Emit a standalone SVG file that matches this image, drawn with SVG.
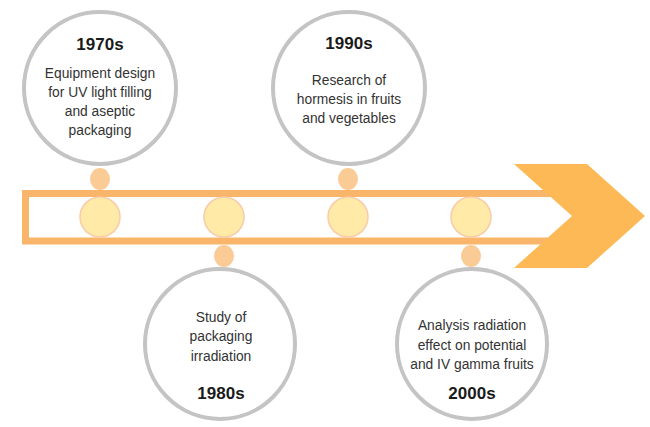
<svg xmlns="http://www.w3.org/2000/svg" width="650" height="427" viewBox="0 0 650 427">
<style>
.big{fill:#fff;stroke:#c4c4c4;stroke-width:4}
.dot{fill:#ffeaa8;stroke:#f9cba8;stroke-width:1.5}
.link{fill:#facb95}
.yr{font-family:"Liberation Sans",Arial,sans-serif;font-size:17px;font-weight:bold;fill:#1a1a1a;text-anchor:middle}
.tx{font-family:"Liberation Sans",Arial,sans-serif;font-size:13.8px;fill:#333;text-anchor:middle}
</style>
<rect width="650" height="427" fill="#fff"/>
<g id="timeline">
<path d="M560,193.5 H25.5 V241 H560" fill="none" stroke="#f9b56a" stroke-width="7"/>
<polygon points="514,164 587,164 645,216 587,268 514,268 572,216" fill="#fdb955"/>
</g>
<g id="connectors">
<ellipse class="link" cx="100" cy="179" rx="10" ry="11"/>
<ellipse class="link" cx="348" cy="179" rx="10" ry="11"/>
<ellipse class="link" cx="224" cy="256" rx="10" ry="11"/>
<ellipse class="link" cx="471" cy="256" rx="10" ry="11"/>
</g>
<g id="dots">
<circle class="dot" cx="100" cy="217" r="20"/>
<circle class="dot" cx="224" cy="217" r="20"/>
<circle class="dot" cx="348" cy="217" r="20"/>
<circle class="dot" cx="471" cy="217" r="20"/>
</g>
<g id="n1970">
<circle class="big" cx="100" cy="88" r="76"/>
<text class="yr" x="100" y="50">1970s</text>
<text class="tx" x="100" y="78">Equipment design</text>
<text class="tx" x="100" y="97">for UV light filling</text>
<text class="tx" x="100" y="116">and aseptic</text>
<text class="tx" x="100" y="135">packaging</text>
</g>
<g id="n1990">
<circle class="big" cx="349" cy="88" r="76"/>
<text class="yr" x="349" y="49">1990s</text>
<text class="tx" x="349" y="85">Research of</text>
<text class="tx" x="349" y="104">hormesis in fruits</text>
<text class="tx" x="349" y="123">and vegetables</text>
</g>
<g id="n1980">
<circle class="big" cx="220" cy="344" r="75"/>
<text class="tx" x="221" y="322">Study of</text>
<text class="tx" x="221" y="341">packaging</text>
<text class="tx" x="221" y="361">irradiation</text>
<text class="yr" x="221" y="399">1980s</text>
</g>
<g id="n2000">
<circle class="big" cx="472" cy="344" r="75"/>
<text class="tx" x="472" y="330">Analysis radiation</text>
<text class="tx" x="472" y="350">effect on potential</text>
<text class="tx" x="472" y="369">and IV gamma fruits</text>
<text class="yr" x="472" y="399">2000s</text>
</g>
</svg>
